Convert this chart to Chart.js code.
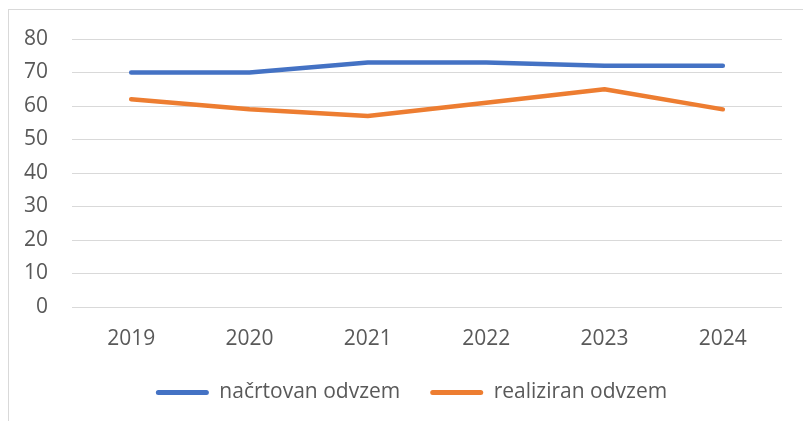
<!DOCTYPE html>
<html>
<head>
<meta charset="utf-8">
<script src="https://cdn.jsdelivr.net/npm/chart.js@4.4.1/dist/chart.umd.min.js"></script>
<style>
html,body{margin:0;padding:0;background:#fff;width:803px;height:421px;overflow:hidden;}
#frame{position:absolute;left:8px;top:9px;width:820px;height:440px;border:1px solid #d9d9d9;box-sizing:border-box;}
#wrap{position:absolute;left:9px;top:10px;width:794px;height:411px;}
</style>
</head>
<body>
<div id="frame"></div>
<div id="wrap"><canvas id="c"></canvas></div>
<script>
const categories = ['2019','2020','2021','2022','2023','2024'];
const planned = [70, 70, 73, 73, 72, 72];
const realized = [62, 59, 57, 61, 65, 59];
const seriesNames = ['načrtovan odvzem', 'realiziran odvzem'];
const yTicks = [0, 10, 20, 30, 40, 50, 60, 70, 80];

const FONT = "'Open Sans', 'Noto Sans', sans-serif";
const TXT = '#595959';
const FS = 21;

const shiftLegend = {
  id: 'shiftLegend',
  afterLayout(chart) { chart.legend.left += 16; chart.legend.right += 16; }
};

new Chart(document.getElementById('c'), {
  type: 'line',
  data: {
    labels: categories,
    datasets: [
      { label: seriesNames[0], data: planned, borderColor: '#4472c4', backgroundColor: '#4472c4',
        borderWidth: 4.5, pointRadius: 0, tension: 0, borderCapStyle: 'round', borderJoinStyle: 'round' },
      { label: seriesNames[1], data: realized, borderColor: '#ed7d31', backgroundColor: '#ed7d31',
        borderWidth: 4.5, pointRadius: 0, tension: 0, borderCapStyle: 'round', borderJoinStyle: 'round' }
    ]
  },
  plugins: [shiftLegend],
  options: {
    responsive: true,
    maintainAspectRatio: false,
    animation: false,
    layout: { padding: { top: 29, right: 21, bottom: 8, left: 0 } },
    plugins: {
      tooltip: { enabled: false },
      legend: {
        position: 'bottom',
        labels: {
          boxWidth: 53, boxHeight: 5, useBorderRadius: true, borderRadius: 2.5,
          color: TXT, font: { family: FONT, size: FS }, padding: 30,
          generateLabels: (chart) => Chart.defaults.plugins.legend.labels.generateLabels(chart)
            .map(l => Object.assign(l, { lineWidth: 0 }))
        }
      }
    },
    scales: {
      x: {
        offset: true,
        afterFit: (s) => { s.height = 45; },
        grid: { display: false, drawTicks: false },
        border: { display: false },
        ticks: { color: TXT, font: { family: FONT, size: FS }, padding: 19.4, maxRotation: 0 }
      },
      y: {
        min: 0, max: 80,
        afterBuildTicks: (s) => { s.ticks = yTicks.map(v => ({ value: v })); },
        afterFit: (s) => { s.width = 63; s.paddingTop = 0; s.paddingBottom = 0; },
        grid: { color: '#d9d9d9', lineWidth: 1, drawTicks: false },
        border: { display: false },
        ticks: { color: TXT, font: { family: FONT, size: FS }, padding: 24 }
      }
    }
  }
});
</script>
</body>
</html>
